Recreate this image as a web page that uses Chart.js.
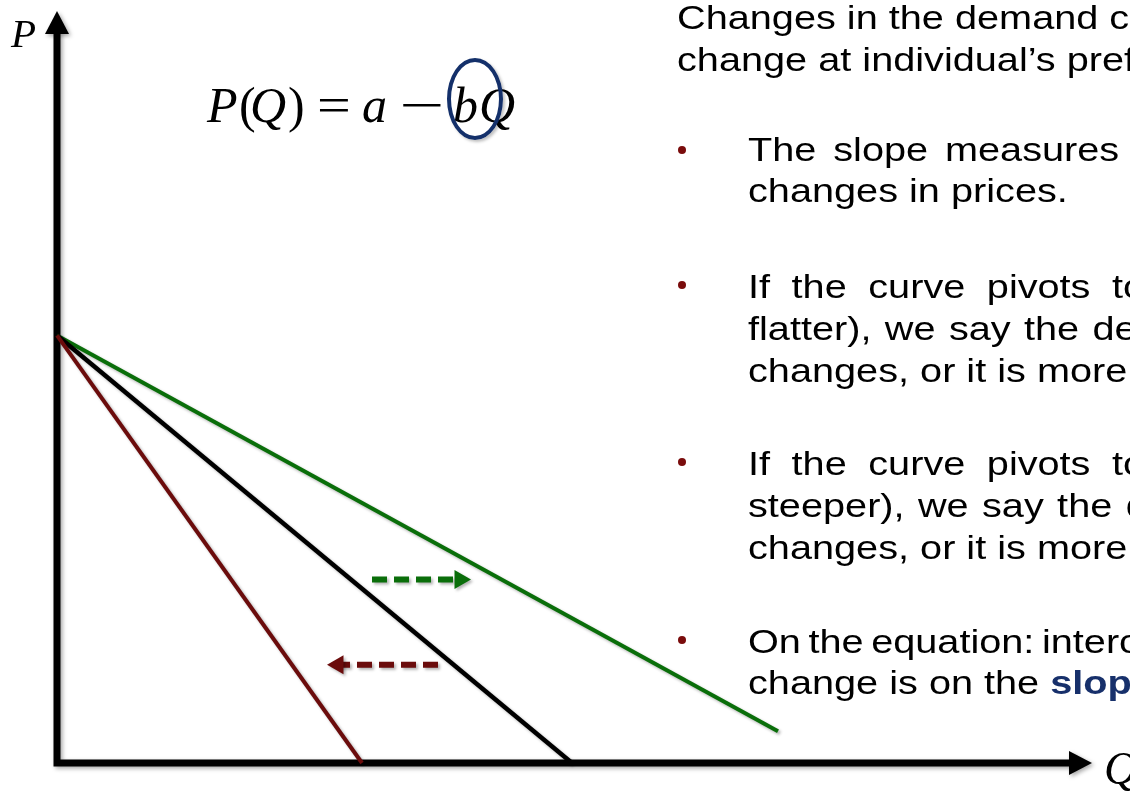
<!DOCTYPE html>
<html>
<head>
<meta charset="utf-8">
<script src="https://cdn.jsdelivr.net/npm/chart.js@4.4.1/dist/chart.umd.min.js"></script>
<style>
  html, body { margin: 0; padding: 0; background: #fff; }
  body { width: 1130px; height: 791px; overflow: hidden; position: relative; }
  #wrap { position: absolute; left: 0; top: 0; width: 1130px; height: 791px; }
  .txt {
    position: absolute; left: 748px;
    font-family: "Liberation Sans", Arial, sans-serif; font-size: 34px; line-height: 34px;
    white-space: nowrap; color: #000;
    transform: scaleX(1.167); transform-origin: 0 0;
  }
  .dot { position: absolute; left: 678px; width: 8px; height: 8px; border-radius: 50%; background: #7a0c0c; }
  .math {
    position: absolute; top: 80px;
    font-family: "Liberation Serif", serif; font-size: 50px; line-height: 50px;
    white-space: nowrap; color: #000; transform-origin: 0 0;
  }
  .it { font-style: italic; }
  .slope { color: #17306b; font-weight: bold; }
  #ring {
    position: absolute; left: 447px; top: 58px; width: 56px; height: 82px;
    box-sizing: border-box; border: 4px solid #14306a; border-radius: 50%;
    box-shadow: 2px 2px 3px rgba(0,0,0,0.25);
  }
</style>
</head>
<body>
<div id="wrap"><canvas id="demandChart" width="1130" height="791"></canvas></div>

<div class="math it" style="left:11px; top:13px; font-size:41px; line-height:41px;">P</div>
<div class="math it" style="left:1104px; top:746px; font-size:46px; line-height:46px;">Q</div>

<div class="math it" style="left:207px;">P</div>
<div class="math" style="left:239px;">(</div>
<div class="math it" style="left:250px;">Q</div>
<div class="math" style="left:288px;">)</div>
<div class="math" style="left:317px; transform:scaleX(1.2);">=</div>
<div class="math it" style="left:362px;">a</div>
<div class="math" style="left:399px; transform:scaleX(1.6);">&minus;</div>
<div class="math it" style="left:453px;">b</div>
<div class="math it" style="left:479px;">Q</div>
<div id="ring"></div>

<div class="txt" style="left:677px; top:0px;">Changes in the demand curve slope</div>
<div class="txt" style="left:677px; top:42px;">change at individual’s preferences.</div>

<div class="dot" style="top:146px;"></div>
<div class="txt" style="top:132px; word-spacing:5px;">The slope measures the</div>
<div class="txt" style="top:173px;">changes in prices.</div>

<div class="dot" style="top:281px;"></div>
<div class="txt" style="top:269px; word-spacing:9px;">If the curve pivots to the right</div>
<div class="txt" style="top:311px; word-spacing:2px;">flatter), we say the demand</div>
<div class="txt" style="top:353px;">changes, or it is more elastic.</div>

<div class="dot" style="top:458px;"></div>
<div class="txt" style="top:446px; word-spacing:9px;">If the curve pivots to the left</div>
<div class="txt" style="top:488px; word-spacing:2px;">steeper), we say the demand</div>
<div class="txt" style="top:530px;">changes, or it is more inelastic.</div>

<div class="dot" style="top:636px;"></div>
<div class="txt" style="top:624px; word-spacing:-3px;">On the equation: intercept</div>
<div class="txt" style="top:665px;">change is on the <span class="slope">slope</span>.</div>

<script>
// values (Q along the bottom, P up the side)
const priceIntercept = 431;
const qSteep = [0, 305];
const pSteep = [priceIntercept, 0];
const qBase = [0, 515];
const pBase = [priceIntercept, 0];
const qFlat = [0, 721];
const pFlat = [priceIntercept, 32];
// dashed shift arrows
const qShiftFlat = [315, 403];
const pShiftFlat = [185, 185];
const qShiftSteep = [381, 281];
const pShiftSteep = [99, 99];

const qMax = 1035;
const pMax = 758;

const GREEN = '#0a6e0a';
const MAROON = '#6b0c0c';

function pts(qs, ps) {
    return qs.map((q, i) => ({ x: q, y: ps[i] }));
}

// axes with arrow heads, drawn under the lines
const axisArrows = {
    id: 'axisArrows',
    beforeDatasetsDraw(chart) {
        const { ctx, scales: { x, y } } = chart;
        const x0 = x.getPixelForValue(0);
        const y0 = y.getPixelForValue(0);
        const xEnd = x.getPixelForValue(x.max);
        const yEnd = y.getPixelForValue(y.max);
        ctx.save();
        ctx.shadowColor = 'rgba(0,0,0,0.35)';
        ctx.shadowBlur = 4;
        ctx.shadowOffsetX = 2;
        ctx.shadowOffsetY = 2;
        ctx.strokeStyle = '#000';
        ctx.fillStyle = '#000';
        ctx.lineWidth = 7;
        ctx.beginPath();
        ctx.moveTo(x0, y0 + 3.5);
        ctx.lineTo(x0, yEnd + 20);
        ctx.moveTo(x0 - 3.5, y0);
        ctx.lineTo(xEnd - 20, y0);
        ctx.stroke();
        ctx.beginPath();
        ctx.moveTo(x0, yEnd);
        ctx.lineTo(x0 - 12, yEnd + 23);
        ctx.lineTo(x0 + 12, yEnd + 23);
        ctx.closePath();
        ctx.fill();
        ctx.beginPath();
        ctx.moveTo(xEnd, y0);
        ctx.lineTo(xEnd - 23, y0 - 12);
        ctx.lineTo(xEnd - 23, y0 + 12);
        ctx.closePath();
        ctx.fill();
        ctx.restore();
    }
};

// soft drop shadow like the slide shapes
const lineShadow = {
    id: 'lineShadow',
    beforeDatasetDraw(chart) {
        const ctx = chart.ctx;
        ctx.save();
        ctx.shadowColor = 'rgba(0,0,0,0.3)';
        ctx.shadowBlur = 3;
        ctx.shadowOffsetX = 2;
        ctx.shadowOffsetY = 2;
    },
    afterDatasetDraw(chart) {
        chart.ctx.restore();
    }
};

const lineDefaults = { showLine: true, pointRadius: 0, fill: false, clip: false };

new Chart(document.getElementById('demandChart'), {
    type: 'scatter',
    data: {
        datasets: [
            { ...lineDefaults, label: 'Steeper', data: pts(qSteep, pSteep), borderColor: MAROON, borderWidth: 4 },
            { ...lineDefaults, label: 'Demand', data: pts(qBase, pBase), borderColor: '#000', borderWidth: 4.5 },
            { ...lineDefaults, label: 'Flatter', data: pts(qFlat, pFlat), borderColor: GREEN, borderWidth: 4 },
            {
                ...lineDefaults, label: 'To flatter', data: pts(qShiftFlat, pShiftFlat),
                borderColor: GREEN, borderWidth: 6, borderDash: [15, 7],
                pointStyle: 'triangle', pointRadius: [0, 11], rotation: [0, 90],
                pointBackgroundColor: GREEN, pointBorderColor: GREEN, pointBorderWidth: 0
            },
            {
                ...lineDefaults, label: 'To steeper', data: pts(qShiftSteep, pShiftSteep),
                borderColor: MAROON, borderWidth: 6, borderDash: [15, 7],
                pointStyle: 'triangle', pointRadius: [0, 11], rotation: [0, -90],
                pointBackgroundColor: MAROON, pointBorderColor: MAROON, pointBorderWidth: 0
            }
        ]
    },
    options: {
        responsive: false,
        animation: false,
        layout: { padding: { left: 57, right: 38, top: 5, bottom: 28 } },
        scales: {
            x: { type: 'linear', min: 0, max: qMax, display: false },
            y: { type: 'linear', min: 0, max: pMax, display: false }
        },
        plugins: {
            legend: { display: false },
            tooltip: { enabled: false }
        }
    },
    plugins: [axisArrows, lineShadow]
});
</script>
</body>
</html>
